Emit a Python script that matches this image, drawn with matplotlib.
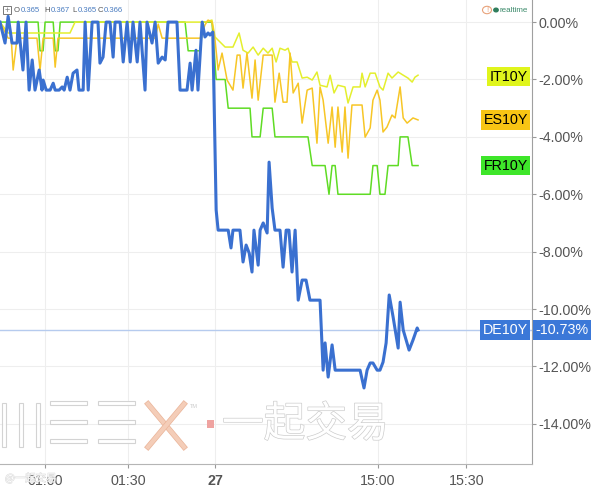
import matplotlib
matplotlib.use("Agg")
import matplotlib.pyplot as plt
import matplotlib.patheffects as pe
from matplotlib.patches import Rectangle, Circle
from matplotlib.lines import Line2D
import matplotlib.transforms as mtransforms

plt.rcParams['font.family'] = ['Liberation Sans', 'DejaVu Sans']

# time axis: minutes from 01:00 on a compressed session index
tick_pos = [0, 29.6, 60.7, 118.9, 150.4]
tick_labels = ['01:00', '01:30', '27', '15:00', '15:30']

# DE10Y (% change)
de_t = [-16.1, -14.3, -13.2, -11.8, -10.0, -9.6, -7.9, -6.8, -5.7, -4.6, -3.6, -2.1, -1.1, -0.7,
        0.4, 1.8, 2.9, 3.6, 5.0, 6.1, 6.8, 7.9, 8.9, 10.0, 11.4, 12.1, 13.6, 14.3, 15.4, 16.8,
        18.9, 19.6, 20.7, 21.8, 23.2, 24.3, 25.0, 26.8, 27.9, 29.3, 30.4, 31.4, 32.9, 33.9,
        35.7, 36.4, 38.2, 39.3, 40.4, 41.8, 42.9, 43.9, 47.1, 48.2, 50.7, 51.8, 52.5, 53.9,
        54.6, 56.1, 57.1, 58.2, 58.9, 59.9, 61.1, 61.8, 65.4, 66.4, 67.1, 69.6, 70.7, 71.8,
        72.9, 73.9, 74.6, 76.1, 76.8, 77.9, 79.3, 80.0, 81.1, 82.1, 83.9, 85.0, 86.1, 87.1,
        88.2, 89.3, 90.4, 91.8, 93.2, 94.6, 98.2, 99.3, 100.0, 101.1, 102.5, 103.6, 112.5,
        113.9, 115.0, 116.1, 117.1, 118.6, 119.6, 120.7, 121.8, 122.9, 124.3, 126.1, 126.8,
        127.9, 130.0, 131.4, 132.9, 133.2]
de_v = [0.0, -0.73, 0.2, -0.73, -0.73, 0.0, -1.67, 0.0, -2.37, -1.32, -2.37, -1.67, -2.37, -2.02,
        -2.37, -2.37, -2.13, -2.37, -2.37, -2.26, -2.37, -1.92, -2.37, -1.78, -1.67, -2.37, -2.37, 0.0, -2.37, 0.0,
        0.0, -1.43, -1.22, 0.0, 0.0, -1.22, 0.0, 0.0, -1.39, 0.0, -1.39, 0.0, -1.39, 0.0,
        -2.37, 0.0, -0.73, 0.0, -1.43, -1.22, -1.32, 0.0, 0.0, -2.37, -2.37, -1.43, -2.37, -0.98,
        -2.37, 0.0, -0.52, -0.38, -0.45, -0.35, -6.55, -7.25, -7.25, -7.87, -7.25, -7.25, -8.36, -7.77,
        -8.05, -8.71, -7.25, -8.47, -7.25, -7.00, -7.35, -4.88, -6.48, -7.25, -7.25, -8.54, -7.25, -7.25,
        -8.71, -7.25, -9.69, -8.99, -8.99, -9.69, -9.69, -12.13, -11.18, -12.37, -11.25, -12.13, -12.13,
        -12.75, -12.13, -11.88, -11.88, -12.13, -12.13, -11.85, -11.18, -9.51, -10.28, -11.36, -9.76,
        -10.73, -11.43, -11.08, -10.66, -10.73]

# FR10Y
fr_t = [-16.1, -2.5, -1.8, -0.7, 0.0, 2.9, 3.6, 4.6, 5.4, 50.0, 51.1, 55.4, 56.4, 59.6, 61.1,
        64.3, 65.4, 73.2, 73.9, 76.8, 77.9, 81.1, 82.1, 93.9, 95.4, 100.0, 101.4, 102.5, 103.6,
        104.6, 116.1, 117.1, 118.6, 119.6, 121.4, 122.5, 126.1, 126.8, 129.6, 131.1, 133.2]
fr_v = [0, 0, -1, -1, 0, 0, -1, -1, 0, 0, -1, -1, 0, 0, -2,
        -2, -3, -3, -4, -4, -3, -3, -4, -4, -5, -5, -6, -5, -5,
        -6, -6, -5, -5, -6, -6, -5, -5, -4, -4, -5, -5]

# ES10Y
es_t = [-16.1, -13.2, -12.1, -11.4, -10.0, -2.9, -1.8, -0.7, 2.9, 3.6, 4.6, 39.3, 40.4, 41.8,
        55.4, 57.1, 58.2, 59.6, 60.7, 61.8, 63.2, 65.0, 67.1, 68.6, 69.6, 70.7, 72.1, 73.9,
        75.0, 76.1, 77.9, 81.1, 82.1, 83.6, 85.0, 86.4, 87.5, 88.6, 90.4, 91.8, 93.6, 95.4,
        97.1, 98.2, 99.3, 101.1, 102.5, 103.6, 104.6, 106.1, 107.1, 108.2, 109.6, 113.2, 114.3,
        116.1, 117.1, 118.6, 119.6, 120.7, 122.1, 123.9, 125.0, 126.8, 127.9, 129.3, 131.4, 133.2]
es_v = [0.0, -0.56, -0.56, -1.67, -0.56, -0.56, -1.67, -0.56, -0.56, -1.57, -0.56, -0.56, -0.07, -0.56,
        -0.56, -0.10, 0.07, 0.0, -0.63, -1.67, -1.08, -2.02, -2.37, -1.15, -1.15, -2.30, -1.08, -2.65,
        -1.32, -2.72, -1.15, -1.15, -2.79, -1.78, -2.79, -2.79, -1.08, -2.47, -2.13, -3.52, -2.37, -2.30,
        -4.22, -2.26, -2.72, -4.22, -2.96, -4.36, -2.96, -4.53, -2.96, -4.74, -2.89, -2.89, -4.01,
        -3.69, -2.72, -2.37, -2.72, -3.83, -3.66, -3.24, -3.34, -2.26, -3.34, -3.52, -3.34, -3.41]

# IT10Y
it_t = [-16.1, -13.2, 8.9, 10.7, 55.4, 57.1, 59.6, 60.7, 64.3, 67.1, 69.3, 70.7, 72.5, 74.3,
        76.1, 77.9, 79.6, 81.1, 82.5, 83.9, 85.7, 86.8, 88.2, 90.0, 91.8, 93.6, 95.4, 97.1,
        98.2, 100.7, 101.8, 103.2, 104.6, 107.1, 108.2, 110.0, 112.5, 113.2, 114.3, 116.1,
        117.9, 119.6, 120.7, 122.5, 123.9, 126.1, 127.9, 129.6, 131.1, 132.1, 133.2]
it_v = [0.0, -0.38, -0.38, 0.0, 0.0, 0.0, 0.07, -0.52, -0.87, -0.87, -0.38, -0.98, -1.08, -0.87,
        -1.15, -0.91, -1.08, -0.91, -1.39, -0.91, -0.98, -0.91, -1.39, -1.39, -1.95, -1.92, -2.02, -1.74,
        -2.20, -2.26, -1.85, -2.47, -2.20, -2.26, -2.82, -2.26, -2.26, -1.78, -2.26, -1.78,
        -1.78, -2.26, -2.37, -1.78, -1.95, -1.74, -1.85, -1.95, -2.09, -1.92, -1.85]

y_ticks = [0, -2, -4, -6, -8, -10, -12, -14]
W, H = 592, 487

fig = plt.figure(figsize=(W / 100, H / 100), dpi=100)
ax = fig.add_axes([0, 1 - 464 / H, 532 / W, 464 / H])
ax.set_xlim(-16.1, 173.9)
ax.set_ylim(-15.40, 0.77)

ax.plot(fr_t, fr_v, color='#5fdc24', lw=1.1, zorder=3)
ax.plot(it_t, it_v, color='#e4ef2e', lw=1.1, zorder=3)
ax.plot(es_t, es_v, color='#f7c626', lw=1.1, zorder=3)
ax.axhline(de_v[-1], color='#b6cbee', lw=1.0, zorder=2)
ax.plot(de_t, de_v, color='#3a70d0', lw=2.2, zorder=4, solid_joinstyle='round')

ax.set_xticks(tick_pos)
ax.set_xticklabels(tick_labels)
for lab in ax.get_xticklabels():
    if lab.get_text() == '27':
        lab.set_fontweight('bold')
        lab.set_color('#333333')
ax.set_yticks(y_ticks)
ax.set_yticklabels([f'{v:.2f}%' for v in y_ticks])
ax.yaxis.tick_right()
ax.tick_params(axis='y', length=3, width=0.8, color='#999999', labelcolor='#555555',
               labelsize=10.3, pad=1.5)
ax.tick_params(axis='x', length=3, width=0.8, color='#999999', labelcolor='#555555',
               labelsize=10.3, pad=4)
ax.grid(True, color='#eeeeee', lw=0.8, zorder=0)
for s in ['left', 'top']:
    ax.spines[s].set_visible(False)
ax.spines['right'].set_color('#a0a0a0')
ax.spines['bottom'].set_color('#b5b5b5')

# series labels at last values
trans = mtransforms.blended_transform_factory(ax.transAxes, ax.transData)
labels = [('IT10Y', it_v[-1] - 0.05, '#e0f51c', 'black'),
          ('ES10Y', es_v[-1], '#f8c514', 'black'),
          ('FR10Y', fr_v[-1], '#3ee62a', 'black'),
          ('DE10Y', de_v[-1], '#3b78d8', 'white')]
for name, v, bg, fg in labels:
    ax.annotate(name, xy=(1.0, v), xycoords=trans, xytext=(-3, 0), textcoords='offset points',
                ha='right', va='center', fontsize=10.3, color=fg, zorder=6,
                bbox=dict(boxstyle='square,pad=0.18', fc=bg, ec='none'))
ax.annotate(f'{de_v[-1]:.2f}%', xy=(1.0, de_v[-1]), xycoords=trans, xytext=(2.5, 0),
            textcoords='offset points', ha='left', va='center', fontsize=10.3, color='white',
            annotation_clip=False, zorder=6,
            bbox=dict(boxstyle='square,pad=0.18', fc='#3b78d8', ec='none'))


def px(x, y):
    return x / W, 1 - y / H


# top-left OHLC legend
fig.add_artist(Rectangle(px(3, 14), 8 / W, 8 / H, transform=fig.transFigure, fill=False,
                         ec='#777777', lw=0.7))
fig.text(*px(7, 10), '+', fontsize=6.5, color='#777777', ha='center', va='center')
ohlc = [('O', 14, '#555555'), ('0.365', 21, '#4a7cc0'), ('H', 44, '#555555'), ('0.367', 51, '#4a7cc0'),
        ('L', 72, '#555555'), ('0.365', 78, '#4a7cc0'), ('C', 98, '#555555'), ('0.366', 104, '#4a7cc0')]
for txt, x0, c in ohlc:
    fig.text(*px(x0, 10), txt, fontsize=5.6, color=c, ha='left', va='center')

# realtime marker
fig.add_artist(Circle(px(487, 10), 4.5 / W, transform=fig.transFigure, fill=False,
                      ec='#e8a27a', lw=0.8))
fig.text(*px(487, 10), '!', fontsize=5.5, color='#e8a27a', ha='center', va='center')
fig.add_artist(Circle(px(496, 10), 2.2 / W, transform=fig.transFigure, color='#2f7d5c'))
fig.text(*px(500, 10), 'realtime', fontsize=5.8, color='#3b8a6a', ha='left', va='center')

# watermark
outline = [pe.withStroke(linewidth=1.0, foreground='#cdcdcd')]
for x0 in [2, 19, 36]:
    fig.add_artist(Rectangle(px(x0, 447), 4 / W, 44 / H, transform=fig.transFigure,
                             fc='white', ec='#cfcfcf', lw=0.8, alpha=0.9, zorder=5))
for x0 in [50, 98]:
    for y0 in [405, 424, 443]:
        fig.add_artist(Rectangle(px(x0, y0), 37 / W, 4 / H, transform=fig.transFigure,
                                 fc='white', ec='#cfcfcf', lw=0.8, alpha=0.9, zorder=5))
for ya, yb in [(404, 447), (447, 404)]:
    fig.add_artist(Line2D([148 / W, 184 / W], [1 - ya / H, 1 - yb / H], transform=fig.transFigure,
                          color='#f4cdb8', lw=3.0, zorder=5,
                          path_effects=[pe.withStroke(linewidth=4.0, foreground='#eab59a')]))
fig.text(*px(190, 406), 'TM', fontsize=4, color='#cccccc', ha='left', va='center', zorder=5)
fig.add_artist(Rectangle(px(207, 428), 7 / W, 8 / H, transform=fig.transFigure,
                         fc='#efa3a0', ec='none', zorder=5))
fig.text(*px(222, 425), '一起交易', fontsize=30, color='white', ha='left', va='center',
         family=['Noto Sans CJK SC', 'DejaVu Sans'], path_effects=outline, zorder=5)
fig.text(*px(5, 478), '@一起交易', fontsize=7.5, color='white', ha='left', va='center',
         family=['Noto Sans CJK SC', 'DejaVu Sans'], alpha=0.8,
         path_effects=[pe.withStroke(linewidth=0.7, foreground='#d4d4d4')], zorder=1)

fig.savefig('out.png', dpi=100)
